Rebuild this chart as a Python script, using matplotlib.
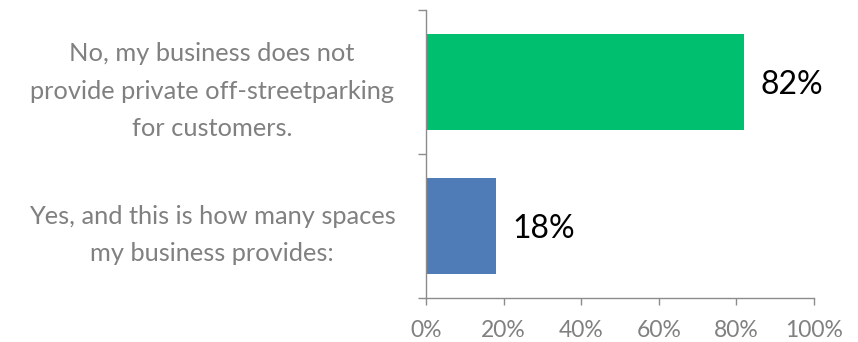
import matplotlib
matplotlib.use("Agg")
import matplotlib.pyplot as plt
from matplotlib.ticker import FixedLocator, PercentFormatter

# Survey responses, bottom to top
categories = [
    "Yes, and this is how many spaces\nmy business provides:",
    "No, my business does not\nprovide private off-streetparking\nfor customers.",
]
shares = [0.18, 0.82]
bar_colors = ["#4F7CB7", "#00BF6F"]
value_labels = ["18%", "82%"]
x_ticks = [0.0, 0.2, 0.4, 0.6, 0.8, 1.0]

plt.rcParams["font.family"] = ["Lato", "DejaVu Sans"]

axis_gray = "#8C8C8C"
text_gray = "#808080"

fig = plt.figure(figsize=(8.58, 3.42), dpi=100)
ax = fig.add_axes([426 / 858, 1 - 298 / 342, 388 / 858, 288 / 342])

positions = list(range(len(categories)))
bars = ax.barh(positions, shares, height=0.66, color=bar_colors)

for bar, label in zip(bars, value_labels):
    ax.annotate(label,
                xy=(bar.get_width(), bar.get_y() + bar.get_height() / 2),
                xytext=(12, -2), textcoords="offset points",
                ha="left", va="center", fontsize=23, color="black")

ax.set_xlim(0, 1)
ax.set_ylim(-0.5, len(categories) - 0.5)

# x axis: percent ticks below the axis line
ax.set_xticks(x_ticks)
ax.xaxis.set_major_formatter(PercentFormatter(xmax=1, decimals=0))
ax.tick_params(axis="x", which="major", direction="out", length=5,
               width=1, color=axis_gray, labelcolor=text_gray,
               labelsize=16.5, pad=10.5)

# y axis: category labels centred in their band, ticks at band edges
ax.set_yticks(positions)
ax.set_yticklabels(categories, ha="center", multialignment="center",
                   linespacing=1.75)
ax.yaxis.set_minor_locator(FixedLocator([-0.5, 0.5, 1.5]))
ax.tick_params(axis="y", which="major", length=0, labelcolor=text_gray,
               labelsize=18.3, pad=154)
ax.tick_params(axis="y", which="minor", direction="out", length=6,
               width=1, color=axis_gray)

for side in ("top", "right"):
    ax.spines[side].set_visible(False)
for side in ("left", "bottom"):
    ax.spines[side].set_color(axis_gray)
    ax.spines[side].set_linewidth(1)

fig.savefig("out.png", dpi=100, facecolor="white")
